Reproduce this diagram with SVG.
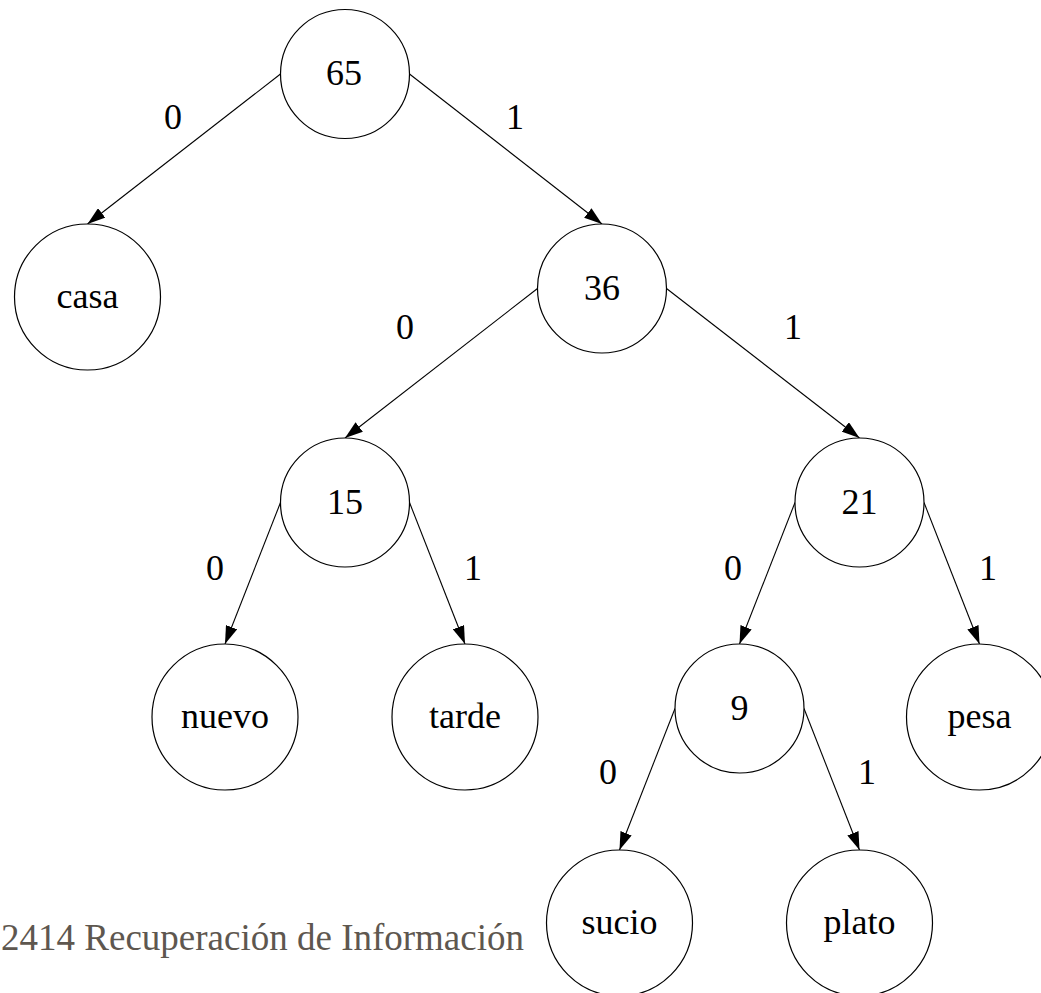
<svg xmlns="http://www.w3.org/2000/svg" width="1041" height="993" viewBox="0 0 1041 993">
  <style>
    .node circle { fill: #ffffff; stroke: #000000; stroke-width: 1.2; }
    .node text, .lbl { font-family: "Liberation Serif", "Times New Roman", serif; font-size: 36px; fill: #000000; text-anchor: middle; }
    .edge { stroke: #000000; stroke-width: 1.1; fill: none; marker-end: url(#arrow); }
    .footer { font-family: "Liberation Serif", "Times New Roman", serif; font-size: 37px; fill: #5e574f; text-anchor: end; }
  </style>
  <defs>
    <marker id="arrow" viewBox="0 0 18 12" markerWidth="18" markerHeight="12" refX="18" refY="6" orient="auto" markerUnits="userSpaceOnUse">
      <path d="M0,0 L18,6 L0,12 z" fill="#000000"/>
    </marker>
  </defs>
  <rect width="1041" height="993" fill="#ffffff"/>

  <!-- footer -->
  <text class="footer" x="524" y="950">2414 Recuperación de Información</text>

  <!-- connectors: from the side of the parent to the top of the child -->
  <g id="connectors">
    <line class="edge" x1="280.5" y1="74" x2="87.5" y2="224"/>
    <line class="edge" x1="409.5" y1="74" x2="602" y2="224"/>
    <line class="edge" x1="537.5" y1="288.5" x2="345" y2="438"/>
    <line class="edge" x1="666.5" y1="288.5" x2="859.5" y2="438"/>
    <line class="edge" x1="280.5" y1="502.5" x2="225" y2="644"/>
    <line class="edge" x1="409.5" y1="502.5" x2="465" y2="644"/>
    <line class="edge" x1="795" y1="502.5" x2="739.5" y2="644"/>
    <line class="edge" x1="924" y1="502.5" x2="979.5" y2="644"/>
    <line class="edge" x1="675" y1="708.5" x2="619.5" y2="850"/>
    <line class="edge" x1="804" y1="708.5" x2="859.5" y2="850"/>
    <text class="lbl" x="173" y="129">0</text>
    <text class="lbl" x="515" y="129">1</text>
    <text class="lbl" x="405" y="339">0</text>
    <text class="lbl" x="793" y="339">1</text>
    <text class="lbl" x="215" y="580">0</text>
    <text class="lbl" x="473" y="580">1</text>
    <text class="lbl" x="733" y="580">0</text>
    <text class="lbl" x="988" y="580">1</text>
    <text class="lbl" x="608" y="784">0</text>
    <text class="lbl" x="867" y="784">1</text>
  </g>

  <!-- nodes -->
  <g id="node-65" class="node"><circle cx="345" cy="74" r="64.5"/><text x="344" y="85">65</text></g>
  <g id="node-casa" class="node"><circle cx="87.5" cy="297" r="73"/><text x="87.5" y="308">casa</text></g>
  <g id="node-36" class="node"><circle cx="602" cy="288.5" r="64.5"/><text x="602" y="300">36</text></g>
  <g id="node-15" class="node"><circle cx="345" cy="502.5" r="64.5"/><text x="345" y="514">15</text></g>
  <g id="node-21" class="node"><circle cx="859.5" cy="502.5" r="64.5"/><text x="859.5" y="514">21</text></g>
  <g id="node-nuevo" class="node"><circle cx="225" cy="717" r="73"/><text x="225" y="728">nuevo</text></g>
  <g id="node-tarde" class="node"><circle cx="465" cy="717" r="73"/><text x="465" y="728">tarde</text></g>
  <g id="node-9" class="node"><circle cx="739.5" cy="708.5" r="64.5"/><text x="739.5" y="720">9</text></g>
  <g id="node-pesa" class="node"><circle cx="979.5" cy="717" r="73"/><text x="979.5" y="728">pesa</text></g>
  <g id="node-sucio" class="node"><circle cx="619.5" cy="923" r="73"/><text x="619.5" y="934">sucio</text></g>
  <g id="node-plato" class="node"><circle cx="859.5" cy="923" r="73"/><text x="859.5" y="934">plato</text></g>
</svg>
